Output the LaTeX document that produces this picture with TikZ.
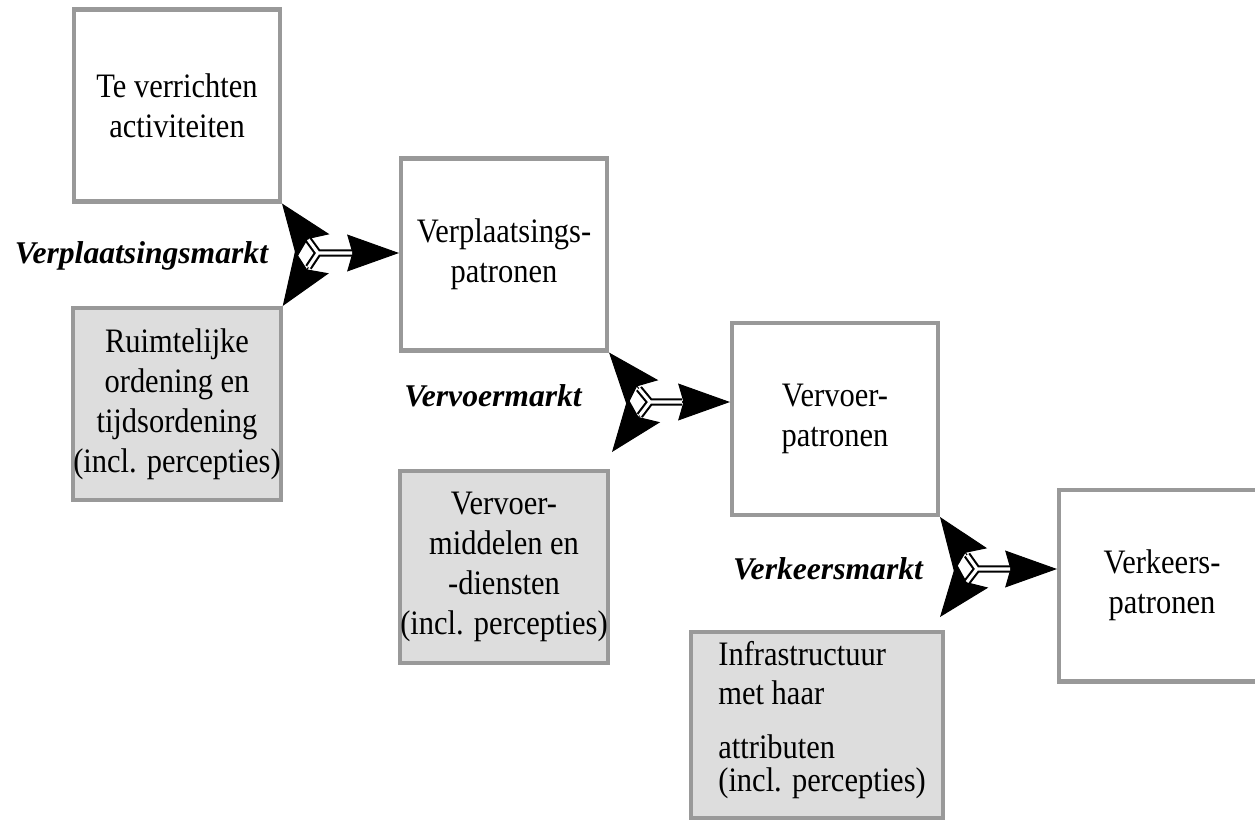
\documentclass[tikz,border=0pt]{standalone}
\usepackage{fontspec}
\setmainfont{Liberation Serif}
\newfontfamily\boxfont{Liberation Serif}[FakeStretch=0.89]
\usetikzlibrary{arrows.meta, positioning, calc}

\definecolor{rim}{RGB}{153,153,153}
\definecolor{shade}{RGB}{221,221,221}

\begin{document}
\begin{tikzpicture}[
    x=0.02cm, y=-0.02cm,
    font=\boxfont\fontsize{19.5}{22.7}\selectfont,
    box/.style={draw=rim, line width=2.3pt, align=center, inner sep=0pt, minimum width=4.12cm, minimum height=3.84cm},
    box_grey/.style={box, fill=shade},
    markt/.style={font=\rmfamily\fontsize{18}{22.7}\selectfont\bfseries\itshape},
    arrow_head/.style={-{Stealth[length=30pt, width=23pt, inset=5pt]}, line width=0.6pt},
    arrow_main/.style={-{Stealth[length=29.5pt, width=21pt, inset=3pt]}, line width=0.6pt},
    arrow_dbl/.style={double=white, double distance=1.8pt, line width=1.2pt}
]
\useasboundingbox (0,0) rectangle (1255,821);

\node[box] (act) at (177,105.5) {Te verrichten\\activiteiten};
\node[box_grey] (ruimte) at (177,404) {Ruimtelijke\\ordening en\\tijdsordening\\(incl. percepties)};
\node[box] (verpl) at (504,254.5) {Verplaatsings-\\patronen};
\node[box_grey] (middelen) at (504,567) {Vervoer-\\middelen en\\-diensten\\(incl. percepties)};
\node[box] (vervoer) at (835,419) {Vervoer-\\patronen};
\node[box_grey, minimum width=5.04cm, minimum height=3.72cm] (infra) at (817,725) {};
\node[align=left, inner sep=0pt, anchor=west] (infratxt) at (718,720) {Infrastructuur\\met haar\\[7.5pt]attributen\\[-3.5pt](incl. percepties)};
\node[box] (verkeer) at (1162,585.5) {Verkeers-\\patronen};

% market labels
\node[markt] (m1) at (141.5,256) {Verplaatsingsmarkt};
\node[markt] (m2) at (493,396) {Vervoermarkt};
\node[markt] (m3) at (828,569) {Verkeersmarkt};

\coordinate (j1) at (318,253);
\coordinate (j2) at (650,402);
\coordinate (j3) at (977,569);
\coordinate (t2) at (612,452);
\coordinate (t3) at (940,617);

% heads
\draw[arrow_head] (j1) -- (act.south east);
\draw[arrow_head] (j1) -- (ruimte.north east);
\draw[arrow_main] (j1) -- (j1 -| verpl.west);
\draw[arrow_head] (j2) -- (verpl.south east);
\draw[arrow_head] (j2) -- (t2);
\draw[arrow_main] (j2) -- (j2 -| vervoer.west);
\draw[arrow_head] (j3) -- (vervoer.south east);
\draw[arrow_head] (j3) -- (t3);
\draw[arrow_main] (j3) -- (j3 -| verkeer.west);

% double stems
\draw[arrow_dbl] ($(j1)!0.27!(act.south east)$) -- (j1) -- ($(j1)!0.27!(ruimte.north east)$) (j1) -- ++(34,0);
\draw[arrow_dbl] ($(j2)!0.27!(verpl.south east)$) -- (j2) -- ($(j2)!0.27!(t2)$) (j2) -- ++(32,0);
\draw[arrow_dbl] ($(j3)!0.27!(vervoer.south east)$) -- (j3) -- ($(j3)!0.27!(t3)$) (j3) -- ++(33,0);

\end{tikzpicture}
\end{document}
